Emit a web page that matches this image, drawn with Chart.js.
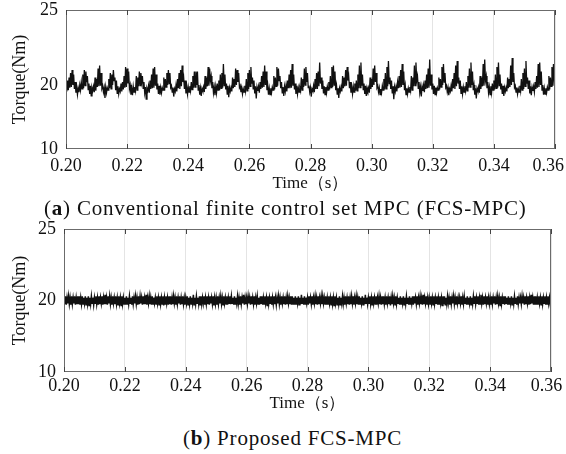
<!DOCTYPE html>
<html>
<head>
<meta charset="utf-8">
<script src="https://cdn.jsdelivr.net/npm/chart.js@4.4.1/dist/chart.umd.min.js"></script>
<style>
  body { margin: 0; background: #fff; width: 566px; height: 454px; position: relative; overflow: hidden; }
  .box { position: absolute; left: 0; width: 566px; height: 200px; }
  .box canvas { display: block; }
  .cap { position: absolute; font-family: 'Liberation Serif', 'Times New Roman', serif; font-size: 21px;
         line-height: 22px; letter-spacing: 0.8px; color: #111; white-space: nowrap; }
</style>
</head>
<body>
<div class="box" style="top:0px"><canvas id="chartA" width="566" height="200"></canvas></div>
<div class="cap" style="top:197px; left:44px">(<b>a</b>) Conventional finite control set MPC (FCS-MPC)</div>
<div class="box" style="top:220px"><canvas id="chartB" width="566" height="200"></canvas></div>
<div class="cap" style="top:427px; left:183px">(<b>b</b>) Proposed FCS-MPC</div>
<script>
// sampling of both traces: 0.20 s .. 0.36 s, one sample every 0.25 ms
const T_START = 0.20;
const T_STEP = 0.00025;

const xTicks = [0.20, 0.22, 0.24, 0.26, 0.28, 0.30, 0.32, 0.34, 0.36];
const yTicks = [10, 20, 25];

// conventional FCS-MPC torque (Nm), one ripple per row
const torqueConventional = [
  19.7,19.0,20.3,19.2,20.5,19.6,20.8,19.7,21.0,20.0,20.7,19.4,20.2,18.8,19.7,18.5,19.5,18.9,
  20.0,19.2,20.2,19.4,20.7,19.5,21.0,19.9,20.9,20.2,20.6,19.3,20.1,18.6,19.9,18.3,19.6,19.1,
  19.8,18.9,20.5,19.1,20.4,19.7,21.1,19.8,21.3,19.9,20.8,19.5,19.9,18.9,19.6,18.0,19.7,18.8,
  19.6,19.2,20.4,19.5,20.8,19.4,20.7,20.0,21.0,20.3,20.5,19.2,20.3,18.7,19.8,18.6,19.4,19.0,
  20.1,19.0,20.2,19.3,20.6,19.6,21.2,19.7,21.1,20.1,20.9,19.4,20.0,18.5,19.5,18.4,19.8,18.9,
  19.7,19.1,20.6,19.2,20.5,19.8,20.9,19.9,20.8,20.2,20.6,19.5,20.2,18.8,19.7,17.8,19.5,19.1,
  19.9,18.8,20.3,19.4,20.7,19.5,21.1,19.6,21.2,19.9,20.7,19.3,20.1,18.6,19.9,18.5,19.6,18.8,
  19.6,19.2,20.5,19.1,20.4,19.7,20.8,20.0,21.0,20.1,20.8,19.6,19.9,18.9,19.6,18.2,19.4,19.0,
  20.0,19.0,20.4,19.5,20.8,19.4,21.0,19.8,21.3,20.2,20.5,19.4,20.3,18.7,19.8,18.6,19.7,18.9,
  19.8,19.1,20.2,19.3,20.6,19.6,20.9,19.7,20.9,20.0,20.9,19.2,20.0,18.5,19.5,18.3,19.5,19.1,
  19.7,18.9,20.6,19.4,20.5,19.8,21.2,19.9,21.1,20.3,20.6,19.5,20.2,18.8,19.7,18.4,19.8,18.8,
  20.1,19.2,20.3,19.2,20.7,19.5,20.8,19.6,21.4,19.9,20.7,19.3,20.1,18.6,19.9,18.1,19.6,19.0,
  19.6,19.0,20.5,19.5,20.4,19.7,21.1,20.0,21.0,20.2,20.8,19.6,19.9,18.9,19.6,18.6,19.4,18.9,
  19.9,19.1,20.4,19.1,20.8,19.4,21.0,19.8,21.2,20.1,20.5,19.4,20.3,18.7,19.8,17.9,19.7,19.1,
  19.8,18.8,20.2,19.4,20.6,19.6,20.9,19.7,21.3,20.0,20.9,19.2,20.0,18.5,19.5,18.5,19.5,18.8,
  19.7,19.2,20.6,19.3,20.5,19.8,21.2,19.9,21.1,20.3,20.6,19.5,20.2,18.8,19.7,18.3,19.8,19.0,
  20.0,19.0,20.3,19.5,20.7,19.5,21.0,19.6,21.4,19.9,20.7,19.3,20.1,18.6,19.9,18.6,19.6,18.9,
  19.6,19.1,20.5,19.2,20.4,19.7,21.1,20.0,21.2,20.2,20.8,19.6,19.9,18.9,19.6,18.2,19.4,19.1,
  19.9,18.9,20.4,19.4,20.8,19.4,20.9,19.8,21.5,20.1,20.5,19.4,20.3,18.7,19.8,18.5,19.7,18.8,
  19.8,19.2,20.2,19.3,20.6,19.6,21.2,19.7,21.3,20.0,20.9,19.2,20.0,18.5,19.5,18.0,19.5,19.0,
  19.7,19.0,20.6,19.5,20.5,19.8,21.0,19.9,21.2,20.3,20.6,19.5,20.2,18.8,19.7,18.6,19.8,18.9,
  20.1,19.1,20.3,19.1,20.7,19.5,21.3,19.6,21.5,19.9,20.7,19.3,20.1,18.6,19.9,18.3,19.6,19.1,
  19.6,18.8,20.5,19.4,20.4,19.7,21.1,20.0,21.3,20.2,20.8,19.6,19.9,18.9,19.6,18.5,19.4,18.8,
  19.9,19.2,20.4,19.3,20.8,19.4,21.2,19.8,21.6,20.1,20.5,19.4,20.3,18.7,19.8,17.8,19.7,19.0,
  19.8,19.0,20.2,19.5,20.6,19.6,21.0,19.7,21.4,20.0,20.9,19.2,20.0,18.5,19.5,18.6,19.5,18.9,
  19.7,19.1,20.6,19.2,20.5,19.8,21.3,19.9,21.5,20.3,20.6,19.5,20.2,18.8,19.7,18.2,19.8,19.1,
  20.0,18.9,20.3,19.4,20.7,19.5,21.1,19.6,21.7,19.9,20.7,19.3,20.1,18.6,19.9,18.5,19.6,18.8,
  19.6,19.2,20.5,19.3,20.4,19.7,21.2,20.0,21.4,20.2,20.8,19.6,19.9,18.9,19.6,18.4,19.4,19.0,
  19.9,19.0,20.4,19.5,20.8,19.4,21.3,19.8,21.6,20.1,20.5,19.4,20.3,18.7,19.8,18.6,19.7,18.9,
  19.8,19.1,20.2,19.1,20.6,19.6,21.1,19.7,21.5,20.0,20.9,19.2,20.0,18.5,19.5,17.9,19.5,19.1,
  19.7,18.8,20.6,19.4,20.5,19.8,21.4,19.9,21.7,20.3,20.6,19.5,20.2,18.8,19.7,18.5,19.8,18.8,
  20.1,19.2,20.3,19.3,20.7,19.5,21.2,19.6,21.5,19.9,20.7,19.3,20.1,18.6,19.9,18.3,19.6,19.0,
  19.6,19.0,20.5,19.5,20.4,19.7,21.3,20.0,21.8,20.2,20.8,19.6,19.9,18.9,19.6,18.6,19.4,18.9,
  19.9,19.1,20.4,19.2,20.8,19.4,21.1,19.8,21.6,20.1,20.5,19.4,20.3,18.7,19.8,18.4,19.7,19.1,
  19.8,18.9,20.2,19.4,20.6,19.6,21.4,19.7,21.5,20.0,20.9,19.2,20.0,18.5,19.5,18.6,19.5,18.8,
  19.7,19.2,20.6,19.3,20.5,19.8,21.2,19.9,21.4,20.3,20.6
];

// proposed FCS-MPC torque (Nm)
const torqueProposed = [
  20.2,19.5,20.3,19.4,20.2,19.6,20.3,19.5,20.2,19.4,20.3,19.5,20.2,19.6,20.3,19.4,20.2,19.5,20.3,19.5,
  20.3,19.4,20.2,19.5,20.3,19.5,20.2,19.6,20.3,19.4,20.2,19.5,20.3,19.3,20.2,19.5,20.3,19.6,20.2,19.4,
  20.2,19.6,20.3,19.5,20.2,19.4,20.3,19.5,20.2,19.6,20.3,19.4,20.2,19.5,20.4,19.5,20.2,19.4,20.3,19.6,
  20.3,19.5,20.2,19.4,20.3,19.6,20.2,19.5,20.3,19.5,20.2,19.4,20.3,19.6,20.2,19.3,20.3,19.5,20.2,19.5,
  20.2,19.4,20.3,19.5,20.2,19.5,20.3,19.6,20.2,19.4,20.3,19.5,20.2,19.6,20.3,19.5,20.2,19.4,20.3,19.5,
  20.3,19.6,20.2,19.4,20.3,19.5,20.2,19.5,20.4,19.4,20.2,19.6,20.3,19.5,20.2,19.4,20.3,19.5,20.2,19.6,
  20.2,19.5,20.3,19.6,20.2,19.4,20.3,19.5,20.2,19.5,20.3,19.3,20.2,19.5,20.3,19.6,20.2,19.4,20.3,19.5,
  20.3,19.4,20.2,19.5,20.3,19.6,20.2,19.4,20.3,19.5,20.2,19.6,20.3,19.4,20.2,19.5,20.3,19.5,20.2,19.4,
  20.2,19.6,20.3,19.4,20.2,19.5,20.3,19.5,20.2,19.6,20.4,19.4,20.2,19.5,20.3,19.6,20.2,19.5,20.3,19.4,
  20.3,19.5,20.2,19.6,20.3,19.4,20.2,19.5,20.3,19.5,20.2,19.4,20.3,19.6,20.2,19.5,20.3,19.3,20.2,19.5,
  20.2,19.4,20.3,19.5,20.2,19.6,20.3,19.5,20.2,19.4,20.3,19.6,20.2,19.5,20.3,19.4,20.2,19.6,20.3,19.5,
  20.3,19.6,20.2,19.4,20.3,19.5,20.2,19.6,20.3,19.5,20.2,19.4,20.3,19.5,20.2,19.6,20.4,19.4,20.2,19.5,
  20.2,19.5,20.3,19.6,20.2,19.4,20.3,19.5,20.2,19.5,20.3,19.4,20.2,19.6,20.3,19.5,20.2,19.4,20.3,19.6,
  20.3,19.4,20.2,19.5,20.3,19.6,20.2,19.3,20.3,19.5,20.2,19.6,20.3,19.4,20.2,19.5,20.3,19.5,20.2,19.4,
  20.2,19.6,20.3,19.5,20.2,19.4,20.3,19.6,20.2,19.5,20.3,19.4,20.2,19.5,20.3,19.6,20.2,19.5,20.3,19.4,
  20.3,19.5,20.2,19.4,20.3,19.5,20.2,19.6,20.3,19.4,20.2,19.5,20.4,19.6,20.2,19.4,20.3,19.5,20.2,19.6,
  20.2,19.4,20.3,19.6,20.2,19.5,20.3,19.4,20.2,19.6,20.3,19.5,20.2,19.4,20.3,19.5,20.2,19.6,20.3,19.5,
  20.3,19.6,20.2,19.5,20.3,19.4,20.2,19.5,20.3,19.6,20.2,19.4,20.3,19.5,20.2,19.3,20.3,19.6,20.2,19.4,
  20.2,19.5,20.3,19.4,20.2,19.6,20.3,19.5,20.2,19.4,20.3,19.6,20.2,19.5,20.3,19.4,20.2,19.5,20.3,19.6,
  20.3,19.4,20.2,19.6,20.3,19.5,20.2,19.4,20.3,19.5,20.2,19.6,20.3,19.4,20.2,19.5,20.4,19.6,20.2,19.5,
  20.2,19.6,20.3,19.5,20.2,19.4,20.3,19.6,20.2,19.5,20.3,19.4,20.2,19.6,20.3,19.5,20.2,19.4,20.3,19.5,
  20.3,19.5,20.2,19.4,20.3,19.6,20.2,19.5,20.3,19.3,20.2,19.5,20.3,19.6,20.2,19.4,20.3,19.5,20.2,19.6,
  20.2,19.4,20.3,19.5,20.2,19.6,20.3,19.4,20.2,19.5,20.3,19.6,20.2,19.4,20.3,19.5,20.2,19.6,20.3,19.4,
  20.3,19.6,20.2,19.5,20.3,19.4,20.2,19.6,20.3,19.5,20.2,19.4,20.4,19.5,20.2,19.6,20.3,19.4,20.2,19.5,
  20.2,19.5,20.3,19.6,20.2,19.4,20.3,19.5,20.2,19.6,20.3,19.4,20.2,19.5,20.3,19.6,20.2,19.3,20.3,19.5,
  20.3,19.4,20.2,19.5,20.3,19.6,20.2,19.4,20.3,19.5,20.2,19.6,20.3,19.5,20.2,19.4,20.3,19.6,20.2,19.5,
  20.2,19.6,20.3,19.4,20.2,19.5,20.3,19.6,20.2,19.4,20.3,19.5,20.2,19.6,20.3,19.4,20.2,19.5,20.3,19.6,
  20.3,19.5,20.2,19.6,20.3,19.4,20.2,19.5,20.4,19.6,20.2,19.4,20.3,19.5,20.2,19.6,20.3,19.4,20.2,19.5,
  20.2,19.4,20.3,19.5,20.2,19.6,20.3,19.4,20.2,19.5,20.3,19.6,20.2,19.3,20.3,19.5,20.2,19.6,20.3,19.4,
  20.3,19.6,20.2,19.4,20.3,19.5,20.2,19.6,20.3,19.4,20.2,19.5,20.3,19.6,20.2,19.4,20.3,19.5,20.2,19.6,
  20.2,19.5,20.3,19.6,20.2,19.4,20.3,19.5,20.2,19.6,20.3,19.4,20.2,19.5,20.4,19.6,20.2,19.4,20.3,19.5,
  20.3,19.4,20.2,19.5,20.3,19.6,20.2,19.4,20.3,19.5,20.2,19.6,20.3,19.4,20.2,19.5,20.3,19.6,20.2,19.5,
  20.2
];

const FONT = "'Liberation Serif', 'Times New Roman', serif";
const INK = '#111';

// y axis of the figure is not uniform: 20 sits below the middle in (a),
// at the middle in (b). A linear scale with piecewise mapping between tick stops.
function makeStopScale(id, stops) {
  const Base = Chart.registry.getScale('linear');
  class StopScale extends Base {
    getPixelForValue(v) {
      if (v === null || v === undefined || isNaN(v)) return NaN;
      let i = 1;
      while (i < stops.length - 1 && v > stops[i][0]) i++;
      const [v0, d0] = stops[i - 1];
      const [v1, d1] = stops[i];
      return this.getPixelForDecimal(d0 + (v - v0) / (v1 - v0) * (d1 - d0));
    }
    getValueForPixel(p) {
      const d = this.getDecimalForPixel(p);
      let i = 1;
      while (i < stops.length - 1 && d > stops[i][1]) i++;
      const [v0, d0] = stops[i - 1];
      const [v1, d1] = stops[i];
      return v0 + (d - d0) / (d1 - d0) * (v1 - v0);
    }
  }
  StopScale.id = id;
  StopScale.defaults = Base.defaults;
  Chart.register(StopScale);
}
makeStopScale('stopsA', [[10, 0], [20, 0.46], [25, 1]]);
makeStopScale('stopsB', [[10, 0], [20, 0.50], [25, 1]]);

// box round the plot area, with short inward ticks top and bottom
const framePlugin = {
  id: 'frame',
  afterDraw(chart) {
    const { ctx, chartArea: a, scales: { x } } = chart;
    ctx.save();
    ctx.strokeStyle = '#6b6b6b';
    ctx.lineWidth = 1;
    ctx.strokeRect(Math.round(a.left) + 0.5, Math.round(a.top) + 0.5,
                   Math.round(a.width) - 1, Math.round(a.height) - 1);
    ctx.strokeStyle = '#444';
    x.ticks.forEach(t => {
      const px = Math.round(x.getPixelForValue(t.value)) + 0.5;
      ctx.beginPath();
      ctx.moveTo(px, a.top); ctx.lineTo(px, a.top + 5);
      ctx.moveTo(px, a.bottom); ctx.lineTo(px, a.bottom - 5);
      ctx.stroke();
    });
    ctx.restore();
  }
};

function torqueChart(canvasId, values, opts) {
  const points = values.map((v, i) => ({ x: T_START + i * T_STEP, y: v }));
  return new Chart(document.getElementById(canvasId), {
    type: 'line',
    data: {
      datasets: [{
        data: points,
        borderColor: INK,
        borderWidth: opts.lineWidth,
        pointRadius: 0,
        tension: 0,
        fill: false
      }]
    },
    options: {
      responsive: false,
      animation: false,
      events: [],
      layout: { padding: { top: opts.top, right: opts.right, left: 0, bottom: 0 } },
      plugins: { legend: { display: false }, tooltip: { enabled: false } },
      scales: {
        x: {
          type: 'linear',
          min: 0.20,
          max: 0.36,
          afterBuildTicks: s => { s.ticks = xTicks.map(v => ({ value: v })); },
          afterFit: s => { s.height = opts.xHeight; s.paddingLeft = 0; s.paddingRight = 0; },
          grid: { color: '#e4e4e4', lineWidth: 1, drawTicks: false },
          border: { display: false },
          ticks: {
            color: INK,
            padding: opts.labelPad,
            maxRotation: 0,
            autoSkip: false,
            font: { family: FONT, size: 18 },
            // last label sits a little left of its tick in the figure (trailing spaces nudge it)
            callback: (v, i) => v.toFixed(2) + (i === xTicks.length - 1 ? opts.lastPad : '')
          },
          title: {
            display: true,
            text: 'Time（s）',
            color: INK,
            font: { family: FONT, size: 17 },
            padding: { top: 0, bottom: 6 }
          }
        },
        y: {
          type: opts.yType,
          min: 10,
          max: 25,
          afterBuildTicks: s => { s.ticks = yTicks.map(v => ({ value: v })); },
          afterFit: s => { s.width = opts.yWidth; s.paddingTop = 0; s.paddingBottom = 0; },
          grid: { display: false, drawTicks: false },
          border: { display: false },
          ticks: {
            color: INK,
            padding: 8,
            font: { family: FONT, size: 18 }
          },
          title: {
            display: true,
            text: 'Torque(Nm)',
            color: INK,
            font: { family: FONT, size: 18 },
            padding: { top: 9, bottom: 0 }
          }
        }
      }
    },
    plugins: [framePlugin]
  });
}

torqueChart('chartA', torqueConventional, { yType: 'stopsA', top: 10, right: 11, xHeight: 51, labelPad: 6, yWidth: 66, lineWidth: 1.3, lastPad: '   ' });
torqueChart('chartB', torqueProposed, { yType: 'stopsB', top: 9, right: 15, xHeight: 48, labelPad: 3, yWidth: 64, lineWidth: 1.5, lastPad: '  ' });
</script>
</body>
</html>
